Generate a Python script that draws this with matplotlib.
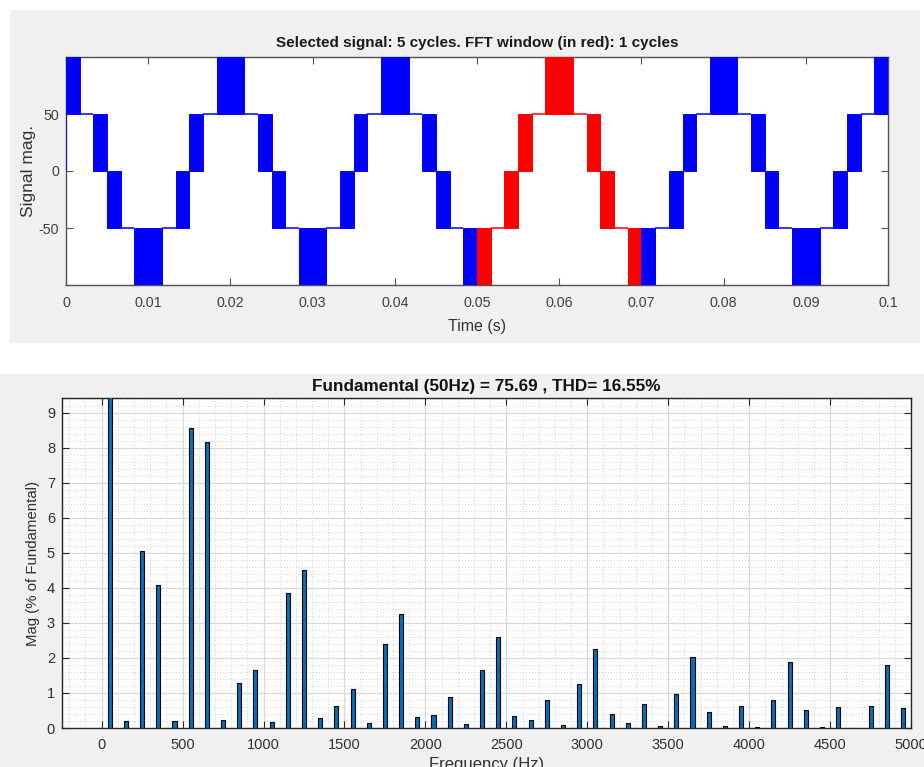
import matplotlib
matplotlib.use("Agg")
import matplotlib.pyplot as plt
from matplotlib.patches import Rectangle
from matplotlib.ticker import MultipleLocator

plt.rcParams["axes.unicode_minus"] = False

# ---------------- time-domain signal: 5-level PWM staircase ----------------
cycle_period_ms = 20.0
n_cycles = 5
# segment boundaries inside one 50 Hz cycle (ms)
seg_bounds_ms = [0.0, 1.667, 3.333, 5.0, 6.667, 8.333, 11.667, 13.333, 15.0, 16.667, 18.333, 20.0]
# the two levels the output switches between in each segment (equal -> flat level)
seg_low = [50, 50, 0, -50, -50, -100, -50, -50, 0, 50, 50]
seg_high = [100, 50, 50, 0, -50, -50, -50, 0, 50, 50, 100]
signal_start_value = 0
fft_window_ms = (50.0, 70.0)

time_ticks = [0, 0.01, 0.02, 0.03, 0.04, 0.05, 0.06, 0.07, 0.08, 0.09, 0.1]
time_tick_labels = ["0", "0.01", "0.02", "0.03", "0.04", "0.05", "0.06", "0.07", "0.08", "0.09", "0.1"]
signal_ticks = [-50, 0, 50]

# ---------------- harmonic spectrum (% of fundamental) ----------------
harmonic_freq = [50, 150, 250, 350, 450, 550, 650, 750, 850, 950,
                 1050, 1150, 1250, 1350, 1450, 1550, 1650, 1750, 1850, 1950,
                 2050, 2150, 2250, 2350, 2450, 2550, 2650, 2750, 2850, 2950,
                 3050, 3150, 3250, 3350, 3450, 3550, 3650, 3750, 3850, 3950,
                 4050, 4150, 4250, 4350, 4450, 4550, 4650, 4750, 4850, 4950]
harmonic_mag = [100.0, 0.21, 5.05, 4.08, 0.21, 8.55, 8.16, 0.24, 1.29, 1.65,
                0.18, 3.85, 4.50, 0.29, 0.64, 1.11, 0.15, 2.40, 3.25, 0.32,
                0.38, 0.89, 0.12, 1.66, 2.60, 0.35, 0.24, 0.79, 0.095, 1.26,
                2.26, 0.41, 0.15, 0.69, 0.07, 0.98, 2.03, 0.47, 0.07, 0.64,
                0.04, 0.79, 1.89, 0.52, 0.04, 0.61, 0.0, 0.64, 1.81, 0.58]
freq_ticks = [0, 500, 1000, 1500, 2000, 2500, 3000, 3500, 4000, 4500, 5000]
mag_ticks = [0, 1, 2, 3, 4, 5, 6, 7, 8, 9]

fundamental_hz = 50
fundamental_mag = 75.69
thd_percent = 16.55

# ---------------- figure ----------------
W, H = 924, 767
fig = plt.figure(figsize=(W / 100, H / 100), dpi=100, facecolor="white")

panel_gray = "#f0f0f0"
fig.patches.append(Rectangle((10 / W, 1 - 343 / H), 910 / W, 333 / H,
                             transform=fig.transFigure, facecolor=panel_gray,
                             edgecolor="none", zorder=-10))
fig.patches.append(Rectangle((0, 0), 1, 393 / H,
                             transform=fig.transFigure, facecolor=panel_gray,
                             edgecolor="none", zorder=-10))

sans = ["Liberation Sans", "DejaVu Sans"]

# ---------------- top: selected signal ----------------
ax1 = fig.add_axes([66 / W, 1 - 285 / H, 822 / W, 228 / H])
ax1.set_facecolor("white")

t_end_ms = cycle_period_ms * n_cycles
w0, w1 = fft_window_ms


def draw_piece(a, b, lo, hi, color):
    a_s, b_s = a / 1000.0, b / 1000.0
    if lo == hi:
        ax1.hlines(lo, a_s, b_s, color=color, lw=1.1, zorder=3)
    else:
        ax1.bar(a_s, hi - lo, width=b_s - a_s, bottom=lo, align="edge",
                color=color, edgecolor=color, linewidth=0.7, zorder=3)


for k in range(n_cycles):
    base = k * cycle_period_ms
    for i in range(len(seg_low)):
        a = base + seg_bounds_ms[i]
        b = base + seg_bounds_ms[i + 1]
        # split at the FFT window edges
        cuts = sorted({a, b} | {c for c in (w0, w1) if a < c < b})
        for p, q in zip(cuts[:-1], cuts[1:]):
            inside = p >= w0 and q <= w1
            draw_piece(p, q, seg_low[i], seg_high[i], "#ff0000" if inside else "#0000ff")

ax1.vlines(0, signal_start_value, seg_low[0], color="#0000ff", lw=1.1, zorder=3)

ax1.set_xlim(0, t_end_ms / 1000.0)
ax1.set_ylim(-100, 100)
ax1.set_xticks(time_ticks)
ax1.set_xticklabels(time_tick_labels)
ax1.set_yticks(signal_ticks)
ax1.tick_params(direction="in", top=True, right=True, length=5, width=0.8,
                colors="#505050", labelcolor="#404040", labelsize=10.3)
ax1.tick_params(axis="x", pad=8)
ax1.tick_params(axis="y", pad=5)
for lab in ax1.get_xticklabels() + ax1.get_yticklabels():
    lab.set_family(sans)
for s in ax1.spines.values():
    s.set_color("#505050")
    s.set_linewidth(1.0)
ax1.set_xlabel("Time (s)", family=sans, fontsize=11.5, color="#333333")
ax1.xaxis.set_label_coords(0.5, -0.15)
ax1.set_ylabel("Signal mag.", family=sans, fontsize=12.5, color="#333333")
ax1.yaxis.set_label_coords(-0.036, 0.5)
ax1.set_title("Selected signal: %d cycles. FFT window (in red): %d cycles"
              % (n_cycles, round((w1 - w0) / cycle_period_ms)),
              family=sans, fontweight="bold", fontsize=11, color="#1a1a1a", pad=7)

# ---------------- bottom: harmonic spectrum ----------------
ax2 = fig.add_axes([62 / W, 1 - 728 / H, 849 / W, 330 / H])
ax2.set_facecolor("white")
ax2.bar(harmonic_freq, harmonic_mag, width=25, color="#0072BD",
        edgecolor="black", linewidth=0.8, zorder=3)
ax2.set_xlim(-245, 5000)
ax2.set_ylim(0, 9.42)
ax2.set_xticks(freq_ticks)
ax2.set_yticks(mag_ticks)
ax2.xaxis.set_minor_locator(MultipleLocator(100))
ax2.yaxis.set_minor_locator(MultipleLocator(0.2))
ax2.grid(True, which="major", color="#d8d8d8", linewidth=0.9, zorder=0)
ax2.grid(True, which="minor", color="#c4c4c4", linewidth=0.6,
         linestyle=(0, (1, 2.5)), zorder=0)
ax2.set_axisbelow(True)
ax2.tick_params(which="major", direction="in", top=True, right=True, length=5,
                width=0.8, colors="#262626", labelcolor="#303030", labelsize=10.5)
ax2.tick_params(which="minor", length=0)
ax2.tick_params(axis="x", pad=7)
ax2.tick_params(axis="y", pad=5)
for lab in ax2.get_xticklabels() + ax2.get_yticklabels():
    lab.set_family(sans)
for s in ax2.spines.values():
    s.set_color("#262626")
    s.set_linewidth(1.0)
ax2.set_xlabel("Frequency (Hz)", family=sans, fontsize=12, color="#303030")
ax2.xaxis.set_label_coords(0.5, -0.088)
ax2.set_ylabel("Mag (% of Fundamental)", family=sans, fontsize=10.8, color="#303030")
ax2.yaxis.set_label_coords(-0.026, 0.5)
ax2.set_title("Fundamental (%dHz) = %.2f , THD= %.2f%%"
              % (fundamental_hz, fundamental_mag, thd_percent),
              family=sans, fontweight="bold", fontsize=12.3, color="#111111", pad=4.8)

fig.savefig("out.png", dpi=100, facecolor="white")
